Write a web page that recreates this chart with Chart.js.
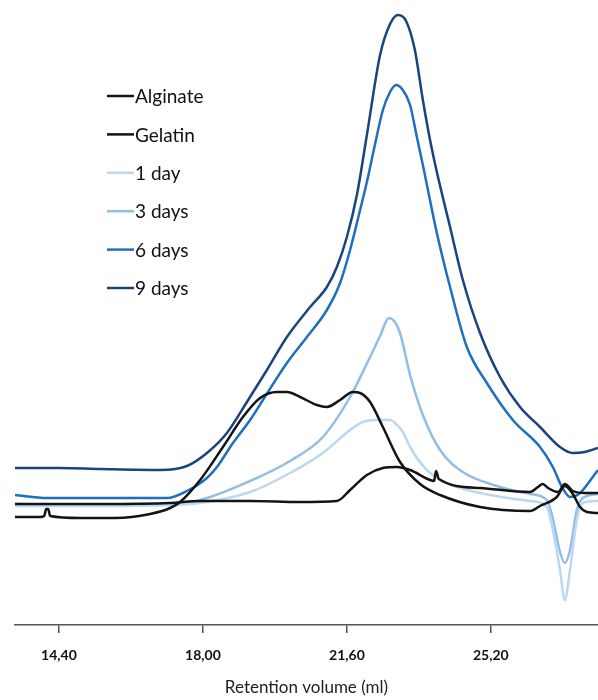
<!DOCTYPE html>
<html>
<head>
<meta charset="utf-8">
<script src="https://cdn.jsdelivr.net/npm/chart.js@4/dist/chart.umd.min.js"></script>
<style>
  body { margin: 0; background: #fff; }
  #box { width: 598px; height: 700px; }
</style>
</head>
<body>
<div id="box"><canvas id="semChart"></canvas></div>
<script>
// retention volume (ml) and detector signal
const tickValues = [14.4, 18.0, 21.6, 25.2];

const alginateX = [13.30, 13.93, 14.03, 14.08, 14.13, 14.18, 14.93, 15.80, 16.68, 17.18, 17.43, 17.93, 18.50, 19.00, 19.43, 19.85, 20.10, 20.43, 20.85, 21.10, 21.43, 21.75, 21.93, 22.18, 22.50, 22.93, 23.43, 23.93, 24.93, 26.18, 26.43, 26.85, 27.05, 27.25, 27.43, 27.60, 27.88];
const alginateY = [21.6, 21.6, 21.8, 23.2, 23.2, 21.8, 21.4, 21.4, 22.2, 23.4, 24.6, 29.0, 35.6, 41.6, 45.4, 46.6, 46.6, 45.6, 44.0, 43.6, 45.0, 46.6, 46.4, 44.6, 39.6, 32.6, 28.2, 26.0, 23.6, 22.8, 23.8, 25.6, 27.8, 26.2, 23.6, 22.6, 22.4];

const gelatinX = [13.30, 15.43, 17.18, 17.93, 19.18, 20.43, 21.35, 21.68, 22.10, 22.50, 22.85, 23.18, 23.68, 23.78, 23.83, 23.90, 24.93, 26.18, 26.38, 26.50, 26.63, 26.88, 27.05, 27.25, 27.55, 27.88];
const gelatinY = [24.2, 24.2, 24.4, 24.8, 24.8, 24.6, 24.8, 27.0, 30.0, 31.4, 31.6, 31.0, 29.0, 28.8, 30.8, 29.2, 27.4, 26.6, 27.6, 28.2, 27.4, 26.6, 28.2, 26.8, 26.4, 26.4];

const day1X = [13.30, 15.43, 17.18, 17.93, 19.18, 20.18, 21.00, 21.68, 22.00, 22.30, 22.68, 22.85, 23.00, 23.18, 23.60, 24.10, 24.93, 26.18, 26.60, 26.75, 26.93, 27.05, 27.18, 27.35, 27.50, 27.88];
const day1Y = [23.8, 23.8, 24.0, 24.4, 26.6, 30.4, 34.4, 39.0, 40.6, 41.0, 41.0, 40.0, 38.6, 35.6, 31.0, 28.4, 26.4, 24.8, 23.6, 19.0, 11.0, 5.0, 11.0, 21.0, 24.4, 24.8];

const day3X = [13.30, 15.43, 17.18, 17.93, 19.18, 20.18, 21.00, 21.68, 22.18, 22.43, 22.65, 22.80, 22.93, 23.18, 23.50, 23.93, 24.50, 25.35, 26.18, 26.60, 26.73, 26.93, 27.05, 27.18, 27.35, 27.50, 27.88];
const day3Y = [24.2, 24.0, 24.2, 25.0, 28.8, 32.8, 37.6, 45.6, 53.6, 57.8, 61.4, 60.6, 58.4, 50.0, 42.0, 35.0, 30.6, 27.8, 26.2, 25.0, 22.0, 14.6, 12.4, 15.0, 23.0, 25.4, 26.2];

const day6X = [13.30, 14.10, 15.43, 17.10, 17.60, 18.10, 18.35, 18.75, 19.18, 19.50, 20.10, 20.60, 21.10, 21.43, 21.68, 21.93, 22.10, 22.30, 22.50, 22.68, 22.83, 22.98, 23.18, 23.35, 23.50, 23.85, 24.18, 24.60, 25.10, 25.75, 26.43, 26.75, 26.98, 27.18, 27.43, 27.75, 27.88];
const day6Y = [26.0, 25.4, 25.4, 25.4, 26.8, 29.4, 31.6, 36.4, 41.0, 45.0, 52.4, 57.6, 63.0, 68.4, 75.0, 83.0, 88.6, 96.0, 103.0, 106.6, 108.0, 107.2, 104.0, 97.6, 92.0, 78.4, 67.6, 55.6, 48.4, 41.0, 35.6, 31.6, 27.6, 25.6, 26.4, 29.6, 31.0];

const day9X = [13.30, 14.43, 15.43, 16.93, 17.60, 18.10, 18.60, 19.10, 19.60, 20.10, 20.68, 21.10, 21.35, 21.60, 21.85, 22.10, 22.43, 22.68, 22.88, 23.08, 23.30, 23.50, 23.68, 23.85, 24.18, 24.50, 24.93, 25.43, 25.93, 26.43, 26.93, 27.25, 27.55, 27.88];
const day9Y = [31.4, 31.4, 31.2, 31.0, 31.8, 34.4, 38.4, 44.6, 51.0, 57.6, 63.6, 67.6, 71.6, 77.6, 86.0, 98.0, 114.0, 120.2, 122.0, 120.8, 115.0, 105.0, 97.0, 90.6, 79.6, 69.0, 58.4, 49.6, 43.6, 39.6, 35.6, 34.4, 34.6, 35.4];

function toPoints(xs, ys) {
    return xs.map((x, i) => ({x: x, y: ys[i]}));
}

function serie(label, xs, ys, color) {
    return {
        label: label,
        data: toPoints(xs, ys),
        borderColor: color,
        borderWidth: 2.5,
        pointRadius: 0,
        fill: false,
        cubicInterpolationMode: 'monotone'
    };
}

// legend drawn inside the plot, top left
const legendaPlugin = {
    id: 'legenda',
    afterDraw(chart) {
        const ctx = chart.ctx;
        ctx.save();
        ctx.font = '19px Lato';
        ctx.textBaseline = 'middle';
        ctx.fillStyle = '#111';
        chart.data.datasets.forEach((ds, i) => {
            const y = 96 + i * 38.4;
            ctx.strokeStyle = ds.borderColor;
            ctx.lineWidth = 2.5;
            ctx.beginPath();
            ctx.moveTo(107, y);
            ctx.lineTo(134, y);
            ctx.stroke();
            ctx.fillText(ds.label, 135, y + 1);
        });
        ctx.restore();
    }
};

function construirGrafico() {
    let ctx = document.getElementById('semChart').getContext('2d');

    new Chart(ctx, {
        type: 'line',
        data: {
            datasets: [
                serie('Alginate', alginateX, alginateY, '#141414'),
                serie('Gelatin', gelatinX, gelatinY, '#141414'),
                serie('1 day', day1X, day1Y, '#bcd8f0'),
                serie('3 days', day3X, day3Y, '#92bde6'),
                serie('6 days', day6X, day6Y, '#1f6fbf'),
                serie('9 days', day9X, day9Y, '#1b437e')
            ]
        },
        options: {
            responsive: true,
            maintainAspectRatio: false,
            animation: false,
            layout: { padding: { left: 15, right: 0, top: 0, bottom: 0 } },
            plugins: {
                legend: { display: false },
                tooltip: { enabled: false }
            },
            scales: {
                x: {
                    type: 'linear',
                    min: 13.3,
                    max: 27.88,
                    afterBuildTicks: scale => {
                        scale.ticks = tickValues.map(v => ({value: v}));
                    },
                    afterFit: scale => {
                        scale.height = 75;
                    },
                    border: { display: true, color: '#555', width: 1.5 },
                    grid: { drawOnChartArea: false, drawTicks: true, tickLength: 8, color: '#555', lineWidth: 1.5 },
                    ticks: {
                        padding: 14,
                        color: '#111',
                        font: { family: 'Lato', size: 14, weight: 'bold' },
                        maxRotation: 0,
                        callback: v => v.toFixed(2).replace('.', ',')
                    },
                    title: {
                        display: true,
                        text: 'Retention volume (ml)',
                        color: '#222',
                        font: { family: 'Lato', size: 17 },
                        padding: { top: 4, bottom: 2 }
                    }
                },
                y: {
                    display: false,
                    min: 0,
                    max: 125
                }
            }
        },
        plugins: [legendaPlugin]
    });
}

construirGrafico();
</script>
</body>
</html>
